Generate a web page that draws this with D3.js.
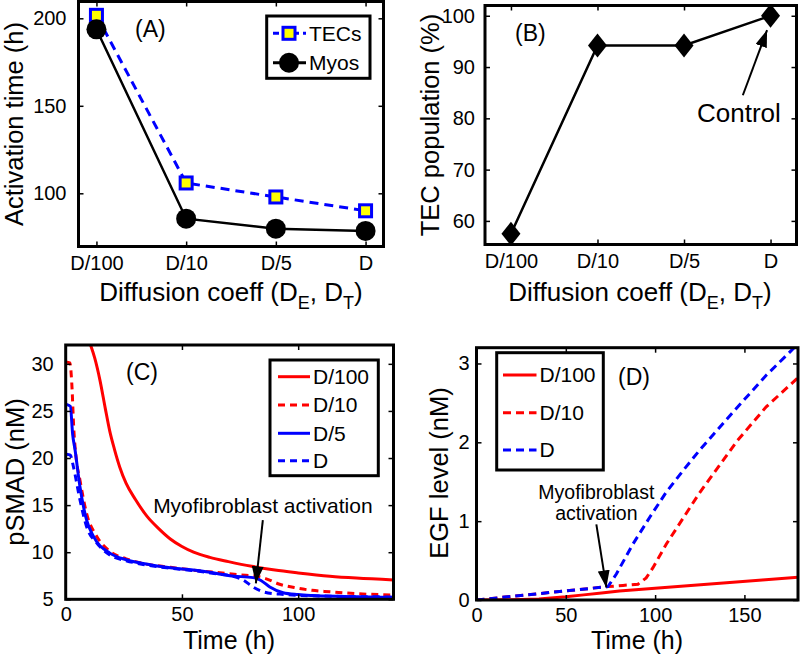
<!DOCTYPE html>
<html>
<head>
<meta charset="utf-8">
<script src="https://cdn.jsdelivr.net/npm/d3@7"></script>
<style>
  body { margin: 0; background: #fff; }
  svg { display: block; font-family: "Liberation Sans", Arial, Helvetica, sans-serif; }
</style>
</head>
<body>
<svg width="800" height="654"></svg>
<script>
// categories used in panels A and B
const diffCats = ['D/100', 'D/10', 'D/5', 'D'];
const catPos = [1, 2, 3, 4];

// (A) activation time (h)
const tecTimes = [201.7, 105.9, 97.9, 90];
const myoTimes = [193.7, 85.5, 79.8, 78.5];

// (B) TEC population (%)
const tecPop = [57.5, 94.2, 94.2, 100];

// (C) pSMAD (nM) vs time (h)
const cTimeD100 = [9, 10.4, 12.5, 14.7, 17, 19, 21, 23.3, 26, 30, 35, 40, 45, 50, 55, 62, 70, 80, 90, 100, 113.6, 125, 141];
const cD100 = [33.2, 32.2, 30.6, 28.3, 25.3, 22.8, 20.9, 19.0, 17.3, 15.6, 13.8, 12.5, 11.4, 10.6, 10.0, 9.45, 9.0, 8.5, 8.1, 7.8, 7.45, 7.25, 7.05];
const cTimeD10 = [0, 1.8, 2.6, 3.5, 4.5, 6.1, 9, 13.3, 19, 26, 33.3, 45, 54.8, 65, 74.9, 82, 86, 92, 99.3, 106, 113.6, 125, 141];
const cD10 = [30.2, 30.1, 28, 23, 20, 17.7, 14.1, 11.7, 10.1, 9.3, 8.8, 8.4, 8.1, 7.85, 7.6, 7.45, 7.2, 6.6, 6.2, 5.95, 5.8, 5.6, 5.45];
const cTimeD5 = [0.3, 2, 3, 4, 6.1, 9, 11.9, 19, 26, 33.3, 45, 54.8, 65, 70.6, 80.6, 84, 87.8, 93.5, 100, 106, 120, 141];
const cD5 = [25.7, 25.5, 22.5, 20.9, 17, 13.4, 11.7, 9.9, 9.2, 8.8, 8.35, 8.1, 7.75, 7.5, 7.3, 7.0, 6.3, 5.7, 5.5, 5.4, 5.3, 5.2];
const cTimeD = [0.3, 2, 3.3, 6.1, 9, 13.3, 19, 26, 33.3, 45, 54.8, 65, 72, 76.3, 80.6, 84.9, 92, 110, 141];
const cD = [20.4, 20.3, 19.1, 15.6, 12.7, 11, 9.7, 9.1, 8.7, 8.3, 8.05, 7.7, 7.45, 7.05, 6.3, 5.8, 5.55, 5.35, 5.25];

// (D) EGF level (nM) vs time (h)
const dTimeD100 = [0, 20, 35, 50, 60, 70, 80, 100, 120, 140, 160, 181];
const dD100 = [0, 0.003, 0.012, 0.04, 0.065, 0.09, 0.115, 0.15, 0.185, 0.22, 0.255, 0.29];
const dTimeD10 = [0, 73.6, 82, 90.4, 95, 98.8, 106.3, 124.9, 146, 162.2, 181];
const dD10 = [0, 0.17, 0.185, 0.2, 0.28, 0.41, 0.71, 1.36, 2.02, 2.45, 2.84];
const dTimeD = [0, 73.6, 78.3, 87.6, 97, 106.3, 115.6, 124.9, 143.5, 162.2, 181];
const dD = [0, 0.17, 0.33, 0.71, 1.05, 1.37, 1.64, 1.9, 2.38, 2.85, 3.27];

const RED = '#ff0000', BLUE = '#0000ff', YEL = '#ffff00';
const svg = d3.select('svg');

svg.append('defs').append('marker')
    .attr('id', 'arrow')
    .attr('markerUnits', 'userSpaceOnUse')
    .attr('markerWidth', 17).attr('markerHeight', 12)
    .attr('refX', 17).attr('refY', 6)
    .attr('orient', 'auto')
    .append('path').attr('d', 'M0,0 L17,6 L0,12 Z').attr('fill', '#000');

const zip = (a, b) => a.map((v, i) => [v, b[i]]);

function makePanel(id, box, xd, yd) {
    const x = d3.scaleLinear().domain(xd).range([box[0], box[1]]);
    const y = d3.scaleLinear().domain(yd).range([box[3], box[2]]);
    svg.append('clipPath').attr('id', 'clip' + id)
        .append('rect')
        .attr('x', box[0]).attr('y', box[2])
        .attr('width', box[1] - box[0]).attr('height', box[3] - box[2]);
    const g = svg.append('g').attr('clip-path', `url(#clip${id})`);
    return { x, y, g, box };
}

function styleAxis(sel) {
    sel.select('.domain').remove();
    sel.selectAll('.tick line').attr('stroke', '#000').attr('stroke-width', 1.5);
    sel.selectAll('.tick text').attr('fill', '#000').style('font-size', '20px');
}

function drawAxes(p, xTicks, yTicks, xFmt, xPad, yPad) {
    const [x0, x1, y0, y1] = p.box;
    svg.append('g').attr('transform', `translate(0,${y1})`)
        .call(d3.axisBottom(p.x).tickValues(xTicks).tickFormat(xFmt)
            .tickSizeInner(-5).tickSizeOuter(0).tickPadding(xPad))
        .call(styleAxis);
    svg.append('g').attr('transform', `translate(0,${y0})`)
        .call(d3.axisTop(p.x).tickValues(xTicks).tickFormat('')
            .tickSizeInner(-5).tickSizeOuter(0))
        .call(styleAxis);
    svg.append('g').attr('transform', `translate(${x0},0)`)
        .call(d3.axisLeft(p.y).tickValues(yTicks).tickFormat(d3.format('d'))
            .tickSizeInner(-5).tickSizeOuter(0).tickPadding(yPad))
        .call(styleAxis);
    svg.append('g').attr('transform', `translate(${x1},0)`)
        .call(d3.axisRight(p.y).tickValues(yTicks).tickFormat('')
            .tickSizeInner(-5).tickSizeOuter(0))
        .call(styleAxis);
}

function frame(p) {
    const [x0, x1, y0, y1] = p.box;
    svg.append('rect')
        .attr('x', x0).attr('y', y0)
        .attr('width', x1 - x0).attr('height', y1 - y0)
        .attr('fill', 'none').attr('stroke', '#000').attr('stroke-width', 3);
}

function yLabel(text, bx, cy) {
    svg.append('text')
        .attr('transform', `translate(${bx},${cy}) rotate(-90)`)
        .attr('text-anchor', 'middle')
        .style('font-size', '25.5px')
        .text(text);
}

function xLabel(text, cx, by) {
    svg.append('text').attr('x', cx).attr('y', by)
        .attr('text-anchor', 'middle').style('font-size', '25px').text(text);
}

function diffLabel(cx, by) {
    const t = svg.append('text').attr('x', cx).attr('y', by)
        .attr('text-anchor', 'middle').style('font-size', '26px');
    t.append('tspan').text('Diffusion coeff (D');
    t.append('tspan').text('E').attr('dy', 8).style('font-size', '18px');
    t.append('tspan').text(', D').attr('dy', -8);
    t.append('tspan').text('T').attr('dy', 8).style('font-size', '18px');
    t.append('tspan').text(')').attr('dy', -8);
}

function tag(text, x, y) {
    svg.append('text').attr('x', x).attr('y', y).style('font-size', '23px').text(text);
}

function legendBox(x0, y0, x1, y1) {
    svg.append('rect')
        .attr('x', x0).attr('y', y0).attr('width', x1 - x0).attr('height', y1 - y0)
        .attr('fill', '#fff').attr('stroke', '#000').attr('stroke-width', 3);
}

function legendLine(lx0, lx1, ly, color, dash, label, fontSize) {
    svg.append('line')
        .attr('x1', lx0).attr('x2', lx1).attr('y1', ly).attr('y2', ly)
        .attr('stroke', color).attr('stroke-width', 3)
        .attr('stroke-dasharray', dash);
    svg.append('text').attr('x', lx1 + 3).attr('y', ly).attr('dy', '0.35em')
        .style('font-size', fontSize).text(label);
}

function arrow(p, from, to) {
    svg.append('line')
        .attr('x1', p.x(from[0])).attr('y1', p.y(from[1]))
        .attr('x2', p.x(to[0])).attr('y2', p.y(to[1]))
        .attr('stroke', '#000').attr('stroke-width', 2)
        .attr('marker-end', 'url(#arrow)');
}

// ---------- (A) ----------
const pA = makePanel('A', [78.5, 383.5, 1.5, 246.5], [0.8, 4.2], [69.6, 209.6]);
drawAxes(pA, catPos, [100, 150, 200], i => diffCats[i - 1], 9, 12);
const lineCat = p => d3.line().x(d => p.x(d[0])).y(d => p.y(d[1]));

pA.g.append('path').datum(zip(catPos, tecTimes))
    .attr('d', lineCat(pA)).attr('fill', 'none')
    .attr('stroke', BLUE).attr('stroke-width', 3).attr('stroke-dasharray', '9,6');
pA.g.append('path').datum(zip(catPos, myoTimes))
    .attr('d', lineCat(pA)).attr('fill', 'none')
    .attr('stroke', '#000').attr('stroke-width', 2.5);
pA.g.selectAll('rect.tec').data(zip(catPos, tecTimes)).join('rect')
    .attr('class', 'tec')
    .attr('x', d => pA.x(d[0]) - 6).attr('y', d => pA.y(d[1]) - 6)
    .attr('width', 12).attr('height', 12)
    .attr('fill', YEL).attr('stroke', BLUE).attr('stroke-width', 3);
pA.g.selectAll('circle').data(zip(catPos, myoTimes)).join('circle')
    .attr('cx', d => pA.x(d[0])).attr('cy', d => pA.y(d[1])).attr('r', 10)
    .attr('fill', '#000');
frame(pA);
tag('(A)', 135, 36.5);

legendBox(266.7, 16, 370, 78.3);
legendLine(273, 306, 33.3, BLUE, '6,4', 'TECs', '21px');
svg.append('rect').attr('x', 283).attr('y', 27.3).attr('width', 12).attr('height', 12)
    .attr('fill', YEL).attr('stroke', BLUE).attr('stroke-width', 3);
legendLine(273, 306, 62.7, '#000', null, 'Myos', '21px');
svg.append('circle').attr('cx', 289).attr('cy', 62.7).attr('r', 10).attr('fill', '#000');

yLabel('Activation time (h)', 23, 124);
diffLabel(231, 301);

// ---------- (B) ----------
const pB = makePanel('B', [485, 796.5, 5.5, 244.5], [0.7, 4.3], [55.4, 102]);
drawAxes(pB, catPos, [60, 70, 80, 90, 100], i => diffCats[i - 1], 9, 10);
pB.g.append('path').datum(zip(catPos, tecPop))
    .attr('d', lineCat(pB)).attr('fill', 'none')
    .attr('stroke', '#000').attr('stroke-width', 2.5);
pB.g.selectAll('path.dia').data(zip(catPos, tecPop)).join('path')
    .attr('class', 'dia')
    .attr('transform', d => `translate(${pB.x(d[0])},${pB.y(d[1])})`)
    .attr('d', 'M0,-12 L9.5,0 L0,12 L-9.5,0 Z')
    .attr('fill', '#000');
frame(pB);
tag('(B)', 515, 41);
svg.append('text').attr('x', pB.x(3.15)).attr('y', pB.y(79.3))
    .style('font-size', '26px').text('Control');
arrow(pB, [3.68, 84.5], [3.96, 97.2]);
yLabel('TEC population (%)', 439, 125);
diffLabel(640, 301);

// ---------- (C) ----------
const pC = makePanel('C', [65.7, 393.5, 345, 599.3], [0, 141], [5, 32]);
drawAxes(pC, [0, 50, 100], [5, 10, 15, 20, 25, 30], d3.format('d'), 8, 12);
const lineT = p => d3.line().x(d => p.x(d[0])).y(d => p.y(d[1])).curve(d3.curveMonotoneX);
const cSeries = [
    { t: cTimeD100, v: cD100, color: RED, dash: null, name: 'D/100' },
    { t: cTimeD10, v: cD10, color: RED, dash: '7,5', name: 'D/10' },
    { t: cTimeD5, v: cD5, color: BLUE, dash: null, name: 'D/5' },
    { t: cTimeD, v: cD, color: BLUE, dash: '7,5', name: 'D' }
];
cSeries.forEach(s => {
    pC.g.append('path').datum(zip(s.t, s.v))
        .attr('d', lineT(pC)).attr('fill', 'none')
        .attr('stroke', s.color).attr('stroke-width', 3)
        .attr('stroke-dasharray', s.dash);
});
frame(pC);
tag('(C)', 126, 380);
legendBox(270, 360, 378.3, 475.7);
[376.7, 405, 433.3, 460.7].forEach((ly, i) => {
    const s = cSeries[i];
    legendLine(278, 310, ly, s.color, s.dash, s.name, '21px');
});
svg.append('text').attr('x', pC.x(84.8)).attr('y', pC.y(14.2))
    .attr('text-anchor', 'middle').style('font-size', '21px')
    .text('Myofibroblast activation');
arrow(pC, [84.8, 13.4], [81.8, 6.7]);
yLabel('pSMAD (nM)', 24, 472);
xLabel('Time (h)', 229, 649);

// ---------- (D) ----------
const pD = makePanel('D', [476.5, 798, 347.7, 600], [0, 180], [0, 3.2]);
drawAxes(pD, [0, 50, 100, 150], [0, 1, 2, 3], d3.format('d'), 8, 7);
const lineD = p => d3.line().x(d => p.x(d[0])).y(d => p.y(d[1]));
const dSeries = [
    { t: dTimeD100, v: dD100, color: RED, dash: null, name: 'D/100' },
    { t: dTimeD10, v: dD10, color: RED, dash: '8,5', name: 'D/10' },
    { t: dTimeD, v: dD, color: BLUE, dash: '8,5', name: 'D' }
];
dSeries.forEach(s => {
    pD.g.append('path').datum(zip(s.t, s.v))
        .attr('d', lineD(pD)).attr('fill', 'none')
        .attr('stroke', s.color).attr('stroke-width', 3)
        .attr('stroke-dasharray', s.dash);
});
frame(pD);
tag('(D)', 618, 385);
legendBox(496.7, 352.7, 603.3, 470);
[375, 412.7, 450].forEach((ly, i) => {
    const s = dSeries[i];
    legendLine(503, 536.5, ly, s.color, s.dash, s.name, '21px');
});
const ann = svg.append('text').attr('text-anchor', 'middle').style('font-size', '19.5px');
ann.append('tspan').attr('x', pD.x(67.1)).attr('y', pD.y(1.28)).text('Myofibroblast');
ann.append('tspan').attr('x', pD.x(67.1)).attr('y', pD.y(1.02)).text('activation');
arrow(pD, [67.1, 0.96], [72.7, 0.16]);
yLabel('EGF level (nM)', 448, 473);
xLabel('Time (h)', 637, 649);
</script>
</body>
</html>
